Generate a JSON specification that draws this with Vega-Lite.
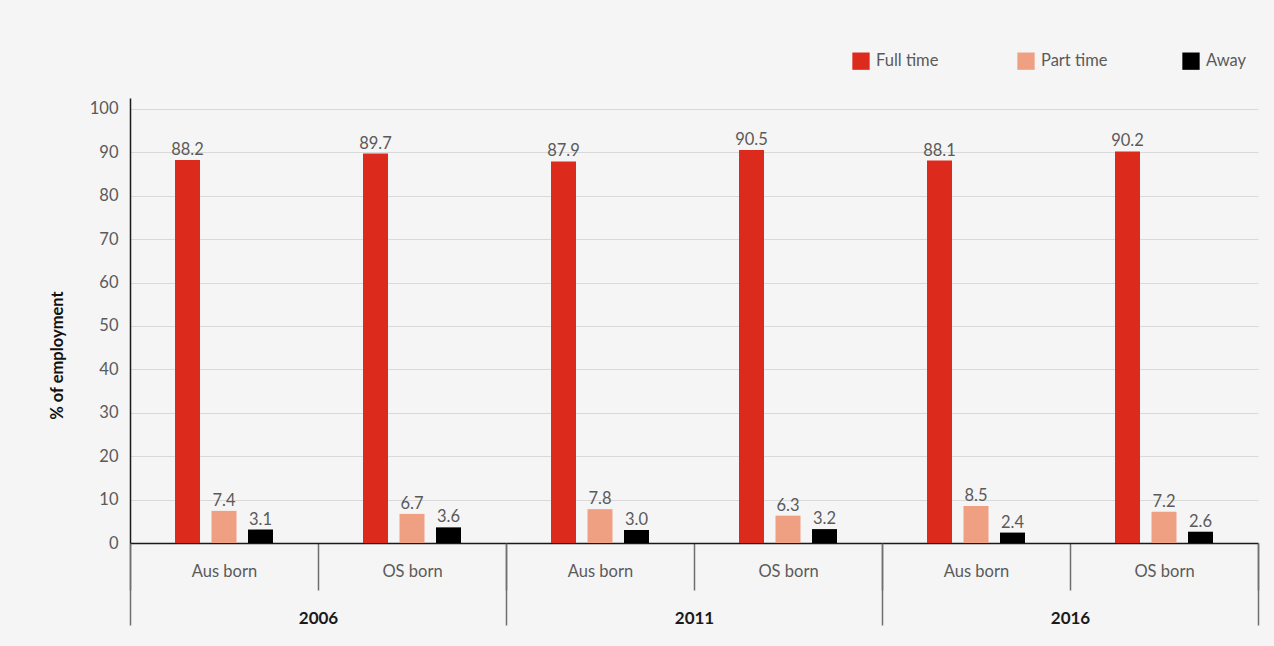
{
  "$schema": "https://vega.github.io/schema/vega-lite/v6.json",
  "width": 1128,
  "height": 445,
  "autosize": {"type": "none"},
  "padding": {"left": 130, "top": 98, "right": 16, "bottom": 103},
  "background": "#f5f5f5",
  "config": {
    "font": "Lato",
    "view": {"stroke": null},
    "axis": {"labelFont": "Lato", "titleFont": "Lato"}
  },
  "data": {
    "values": [
      {"year": "2006", "born": "Aus born", "group": "2006|Aus born", "type": "Full time", "value": 88.2},
      {"year": "2006", "born": "Aus born", "group": "2006|Aus born", "type": "Part time", "value": 7.4},
      {"year": "2006", "born": "Aus born", "group": "2006|Aus born", "type": "Away", "value": 3.1},
      {"year": "2006", "born": "OS born", "group": "2006|OS born", "type": "Full time", "value": 89.7},
      {"year": "2006", "born": "OS born", "group": "2006|OS born", "type": "Part time", "value": 6.7},
      {"year": "2006", "born": "OS born", "group": "2006|OS born", "type": "Away", "value": 3.6},
      {"year": "2011", "born": "Aus born", "group": "2011|Aus born", "type": "Full time", "value": 87.9},
      {"year": "2011", "born": "Aus born", "group": "2011|Aus born", "type": "Part time", "value": 7.8},
      {"year": "2011", "born": "Aus born", "group": "2011|Aus born", "type": "Away", "value": 3.0},
      {"year": "2011", "born": "OS born", "group": "2011|OS born", "type": "Full time", "value": 90.5},
      {"year": "2011", "born": "OS born", "group": "2011|OS born", "type": "Part time", "value": 6.3},
      {"year": "2011", "born": "OS born", "group": "2011|OS born", "type": "Away", "value": 3.2},
      {"year": "2016", "born": "Aus born", "group": "2016|Aus born", "type": "Full time", "value": 88.1},
      {"year": "2016", "born": "Aus born", "group": "2016|Aus born", "type": "Part time", "value": 8.5},
      {"year": "2016", "born": "Aus born", "group": "2016|Aus born", "type": "Away", "value": 2.4},
      {"year": "2016", "born": "OS born", "group": "2016|OS born", "type": "Full time", "value": 90.2},
      {"year": "2016", "born": "OS born", "group": "2016|OS born", "type": "Part time", "value": 7.2},
      {"year": "2016", "born": "OS born", "group": "2016|OS born", "type": "Away", "value": 2.6}
    ]
  },
  "resolve": {"scale": {"x": "independent"}, "axis": {"x": "independent"}},
  "layer": [
    {
      "encoding": {
        "x": {
          "field": "group",
          "type": "nominal",
          "sort": null,
          "scale": {"paddingInner": 0, "paddingOuter": 0},
          "axis": {
            "orient": "bottom",
            "title": null,
            "labelExpr": "split(datum.label, '|')[1]",
            "labelAngle": 0,
            "labelFontSize": 16.5,
            "labelFontWeight": "normal",
            "labelColor": "#5a5a5a",
            "labelBaseline": "middle",
            "labelPadding": -19,
            "tickBand": "extent",
            "tickSize": 47,
            "tickColor": "#6f6f6f",
            "tickWidth": 1.5,
            "domainColor": "#1a1a1a",
            "domainWidth": 1.5
          }
        },
        "xOffset": {
          "field": "type",
          "type": "nominal",
          "scale": {
            "domain": ["gap-start", "Full time", "Part time", "Away", "gap-end"],
            "paddingInner": 0.315,
            "paddingOuter": 0.233
          }
        },
        "y": {
          "field": "value",
          "type": "quantitative",
          "scale": {"domain": [0, 102.5], "nice": false},
          "axis": {
            "values": [0, 10, 20, 30, 40, 50, 60, 70, 80, 90, 100],
            "title": "% of employment",
            "titleFontSize": 16.5,
            "titleFontWeight": "bold",
            "titleColor": "#111111",
            "titlePadding": 24,
            "titleY": 257,
            "labelFontSize": 16.5,
            "labelFontWeight": "normal",
            "labelColor": "#5a5a5a",
            "labelPadding": 12,
            "ticks": false,
            "grid": true,
            "gridColor": "#d9d9d9",
            "gridWidth": 1,
            "domainColor": "#1a1a1a",
            "domainWidth": 1.5
          }
        }
      },
      "layer": [
        {
          "mark": {"type": "bar"},
          "encoding": {
            "color": {
              "field": "type",
              "type": "nominal",
              "scale": {"domain": ["Full time", "Part time", "Away"], "range": ["#dc2b1c", "#f0a082", "#000000"]},
              "legend": {
                "title": null,
                "orient": "none",
                "legendX": 722,
                "legendY": -46,
                "direction": "horizontal",
                "columns": 3,
                "gridAlign": "all",
                "columnPadding": 74,
                "padding": 0,
                "symbolType": "square",
                "symbolSize": 300,
                "symbolStrokeWidth": 0,
                "symbolOpacity": 1,
                "labelFontSize": 16.5,
                "labelFontWeight": "normal",
                "labelColor": "#5a5a5a",
                "labelOffset": 6
              }
            }
          }
        },
        {
          "mark": {"type": "text", "baseline": "bottom", "dy": -2, "fontSize": 16.5, "color": "#5a5a5a"},
          "encoding": {
            "text": {"field": "value", "type": "quantitative", "format": ".1f"}
          }
        }
      ]
    },
    {
      "mark": {"type": "point", "opacity": 0},
      "encoding": {
        "x": {
          "field": "year",
          "type": "nominal",
          "scale": {"paddingInner": 0, "paddingOuter": 0},
          "axis": {
            "orient": "bottom",
            "title": null,
            "labelAngle": 0,
            "labelFontSize": 17,
            "labelFontWeight": "bold",
            "labelColor": "#1a1a1a",
            "labelBaseline": "middle",
            "labelPadding": -7,
            "tickBand": "extent",
            "tickSize": 82,
            "tickColor": "#6f6f6f",
            "tickWidth": 1.5,
            "domain": false
          }
        }
      }
    }
  ]
}
